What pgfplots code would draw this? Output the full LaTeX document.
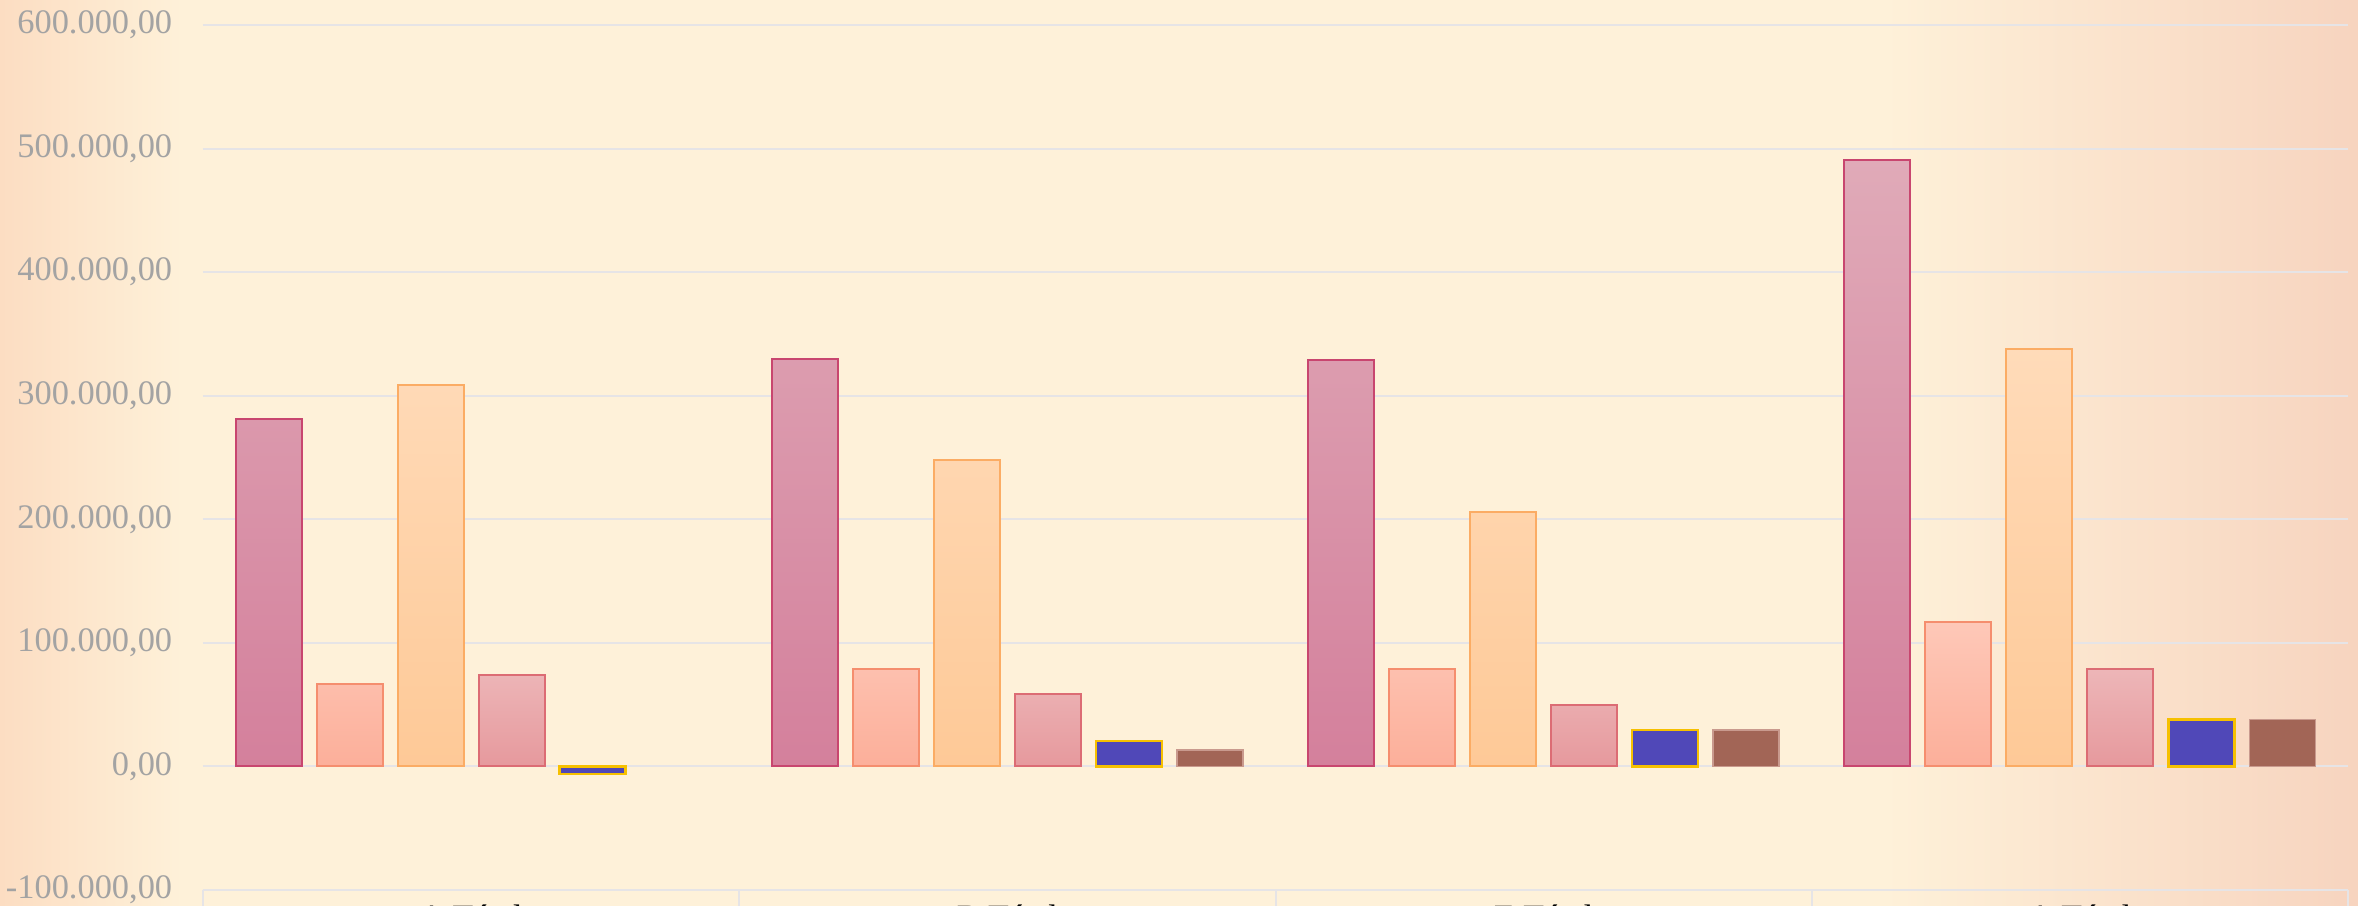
\documentclass[border=0pt]{standalone}
\usepackage{fontspec}
\setmainfont{Liberation Serif}
\usepackage{pgfplots}
\pgfplotsset{compat=1.18}
\definecolor{cream}{HTML}{FEF1D9}
\definecolor{peachL}{HTML}{FCDDC2}
\definecolor{peachR}{HTML}{F7D4BF}
\definecolor{gridcol}{HTML}{E6E4E6}
\definecolor{ticklab}{HTML}{A3A3A3}
\definecolor{sAtop}{HTML}{E0AAB8}\definecolor{sAbot}{HTML}{D4809C}\definecolor{sAdraw}{HTML}{C8466F}
\definecolor{sBtop}{HTML}{FEC8B8}\definecolor{sBbot}{HTML}{FCAF9A}\definecolor{sBdraw}{HTML}{F58E6E}
\definecolor{sCtop}{HTML}{FFDBB9}\definecolor{sCbot}{HTML}{FEC997}\definecolor{sCdraw}{HTML}{FBAC64}
\definecolor{sDtop}{HTML}{EDB6B8}\definecolor{sDbot}{HTML}{E6999D}\definecolor{sDdraw}{HTML}{DC6C74}
\definecolor{sEfill}{HTML}{5048B8}\definecolor{sEdraw}{HTML}{F6C000}
\definecolor{sFfill}{HTML}{A26556}\definecolor{sFdraw}{HTML}{C99A8E}
\begin{document}
\begin{tikzpicture}
\fill[cream] (-50.75pt,-4pt) rectangle (538.75pt,222.5pt);
\shade[left color=peachL, right color=cream] (-50.75pt,-4pt) rectangle (-5pt,222.5pt);
\shade[left color=cream, right color=peachR] (420pt,-4pt) rectangle (538.75pt,222.5pt);
\begin{axis}[
  at={(0,0)}, anchor=south west,
  scale only axis, width=536.25pt, height=216.25pt,
  xmin=-0.5, xmax=3.5, ymin=-100000, ymax=600000,
  axis x line*=bottom, axis y line*=left,
  y axis line style={draw=none},
  x axis line style={draw=gridcol, line width=0.6pt},
  ymajorgrids, grid style={draw=gridcol, line width=0.5pt},
  ytick={-100000,0,100000,200000,300000,400000,500000,600000},
  yticklabels={{-100.000,00},{0,00},{100.000,00},{200.000,00},{300.000,00},{400.000,00},{500.000,00},{600.000,00}},
  yticklabel style={font=\fontsize{8.6}{10}\selectfont, text=ticklab, inner sep=0pt, xshift=-7.5pt},
  ytick style={draw=none},
  xtick={0,1,2,3},
  xticklabels={A Tétel,B Tétel,E Tétel,A Tétel},
  xticklabel style={font=\fontsize{8.5}{10}\selectfont, text=black, inner sep=3.5pt},
  major x tick style={draw=none},
  extra x ticks={-0.5,0.5,1.5,2.5,3.5},
  extra x tick labels={},
  extra x tick style={major tick length=30pt, tick align=outside, major x tick style={draw=gridcol, line width=0.5pt}},
  clip=false,
]
\addplot[ybar, bar width=0.123, bar shift=-0.3775, draw=sAdraw, line width=0.5pt, top color=sAtop, bottom color=sAbot]
  coordinates {(0,281000) (1,330000) (2,329000) (3,491000)};
\addplot[ybar, bar width=0.123, bar shift=-0.2265, draw=sBdraw, line width=0.5pt, top color=sBtop, bottom color=sBbot]
  coordinates {(0,67000) (1,79000) (2,79000) (3,117000)};
\addplot[ybar, bar width=0.123, bar shift=-0.0755, draw=sCdraw, line width=0.5pt, top color=sCtop, bottom color=sCbot]
  coordinates {(0,309000) (1,248000) (2,206000) (3,338000)};
\addplot[ybar, bar width=0.123, bar shift=0.0755, draw=sDdraw, line width=0.5pt, top color=sDtop, bottom color=sDbot]
  coordinates {(0,74000) (1,59000) (2,50000) (3,79000)};
\addplot[ybar, bar width=0.123, bar shift=0.2265, draw=sEdraw, line width=0.6pt, fill=sEfill]
  coordinates {(0,-6000) (1,20500) (2,29500) (3,38000)};
\addplot[ybar, bar width=0.123, bar shift=0.3775, draw=sFdraw, line width=0.4pt, fill=sFfill]
  coordinates {(1,13500) (2,29500) (3,38000)};
\end{axis}
\pgfresetboundingbox
\useasboundingbox (-50.75pt,-4pt) rectangle (538.75pt,222.5pt);
\end{tikzpicture}
\end{document}
